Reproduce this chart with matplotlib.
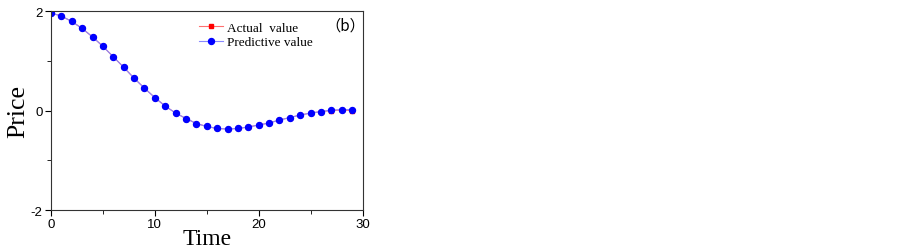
import numpy as np
import matplotlib.pyplot as plt
from matplotlib.ticker import MultipleLocator

plt.rcParams["axes.unicode_minus"] = False

# dados
time = list(range(30))
actual = [1.96, 1.90, 1.79, 1.65, 1.48, 1.29, 1.08, 0.87, 0.65, 0.45,
          0.26, 0.09, -0.05, -0.16, -0.26, -0.32, -0.36, -0.37, -0.36, -0.33,
          -0.29, -0.25, -0.19, -0.14, -0.09, -0.05, -0.02, 0.00, 0.01, 0.00]
predictive = [1.96, 1.90, 1.79, 1.65, 1.48, 1.29, 1.08, 0.87, 0.65, 0.45,
              0.26, 0.09, -0.05, -0.16, -0.26, -0.32, -0.36, -0.37, -0.36, -0.33,
              -0.29, -0.25, -0.19, -0.14, -0.09, -0.05, -0.02, 0.01, 0.02, 0.02]

fig = plt.figure(figsize=(9.03, 2.51), dpi=100)
ax = fig.add_axes([0.0565, 0.159, 0.345, 0.793])

ax.plot(time, actual, color="#ff7070", lw=0.8, marker="s", ms=3.5,
        mfc="red", mec="red", label="Actual  value")
ax.plot(time, predictive, color="#8888ff", lw=0.8, marker="o", ms=4.3,
        mfc="blue", mec="blue", label="Predictive value")

ax.set_xlim(0, 30)
ax.set_ylim(-2, 2)
ax.xaxis.set_major_locator(MultipleLocator(10))
ax.xaxis.set_minor_locator(MultipleLocator(5))
ax.yaxis.set_major_locator(MultipleLocator(2))
ax.yaxis.set_minor_locator(MultipleLocator(1))
ax.tick_params(which="both", direction="out", labelsize=9.5, pad=2)
ax.tick_params(which="major", length=4)
ax.tick_params(which="minor", length=3)
for lbl in ax.get_xticklabels() + ax.get_yticklabels():
    lbl.set_family("Liberation Sans")
for s in ax.spines.values():
    s.set_linewidth(0.8)
    s.set_color("#333333")

ax.set_xlabel("Time", family="Liberation Serif", fontsize=17, labelpad=-2)
ax.set_ylabel("Price", family="Liberation Serif", fontsize=18.5, labelpad=1)

leg = ax.legend(loc="upper left", bbox_to_anchor=(0.445, 0.995), frameon=False,
                prop={"family": "Liberation Serif", "size": 9.5},
                handlelength=1.8, handletextpad=0.3, labelspacing=0.2,
                borderpad=0.2)
ax.text(0.945, 0.93, "（b）", transform=ax.transAxes, ha="center", va="center",
        family=["Noto Sans CJK SC", "DejaVu Sans"], fontsize=11)

fig.savefig("out.png", dpi=100)
